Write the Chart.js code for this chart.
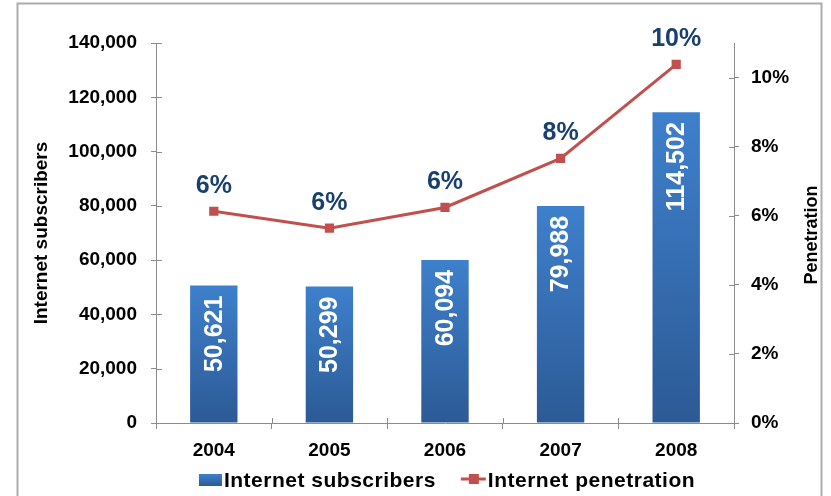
<!DOCTYPE html>
<html>
<head>
<meta charset="utf-8">
<script src="https://cdn.jsdelivr.net/npm/chart.js@4"></script>
<style>
  html, body { margin: 0; padding: 0; background: #fff; }
  #box { width: 831px; height: 496px; }
</style>
</head>
<body>
<div id="box"><canvas id="myChart" width="831" height="496"></canvas></div>
<script>
const years = ['2004', '2005', '2006', '2007', '2008'];
const subscribers = [50621, 50299, 60094, 79988, 114502];
// penetration in %
const penetration = [6.13, 5.64, 6.24, 7.66, 10.38];
const leftTicks = [0, 20000, 40000, 60000, 80000, 100000, 120000, 140000];
const rightTicks = [0, 2, 4, 6, 8, 10];

const FONT = "'Liberation Sans', Arial, sans-serif";
const AXIS = '#8C8C8C';
const RED = '#C0504D';
const NAVY = '#17406F';

function barGradient(c, top, bot) {
    let g = c.createLinearGradient(0, top, 0, bot);
    g.addColorStop(0, '#3E80CC');
    g.addColorStop(1, '#2C5A95');
    return g;
}

// white page + grey frame
const framePlugin = {
    id: 'frame',
    beforeDraw(chart) {
        const c = chart.ctx;
        c.save();
        c.fillStyle = '#fff';
        c.fillRect(0, 0, chart.width, chart.height);
        c.strokeStyle = '#ADADAD';
        c.lineWidth = 2;
        c.strokeRect(17.5, 3.5, chart.width - 27, chart.height + 40);
        c.restore();
    }
};

// the part of each tick mark that sits inside the plot
const innerTicks = {
    id: 'innerTicks',
    afterDraw(chart) {
        const c = chart.ctx, a = chart.chartArea;
        const y = chart.scales.y, y1 = chart.scales.y1, x = chart.scales.x;
        c.save();
        c.strokeStyle = AXIS;
        c.lineWidth = 1;
        c.beginPath();
        y.ticks.forEach(t => {
            let py = Math.round(y.getPixelForValue(t.value)) + 0.5;
            c.moveTo(a.left, py); c.lineTo(a.left + 6, py);
        });
        y1.ticks.forEach(t => {
            let py = Math.round(y1.getPixelForValue(t.value)) + 0.5;
            c.moveTo(a.right - 5, py); c.lineTo(a.right, py);
        });
        for (let i = 0; i <= years.length; i++) {
            let px = Math.round(x.getPixelForValue(i - 0.5)) + 0.5;
            c.moveTo(px, a.bottom - 5); c.lineTo(px, a.bottom);
        }
        c.stroke();
        c.restore();
    }
};

// value labels on bars and points
const valueLabels = {
    id: 'valueLabels',
    afterDatasetsDraw(chart) {
        const c = chart.ctx;
        c.save();
        let bars = chart.getDatasetMeta(0).data;
        c.font = 'bold 25px ' + FONT;
        c.fillStyle = '#fff';
        c.textAlign = 'right';
        c.textBaseline = 'middle';
        bars.forEach((b, i) => {
            c.save();
            c.translate(b.x + 1, b.y + 10);
            c.rotate(-Math.PI / 2);
            c.fillText(subscribers[i].toLocaleString('en-US'), 0, 0);
            c.restore();
        });
        let pts = chart.getDatasetMeta(1).data;
        c.fillStyle = NAVY;
        c.textAlign = 'center';
        pts.forEach((p, i) => {
            c.fillText(Math.round(penetration[i]) + '%', p.x, p.y - 25);
        });
        c.restore();
    }
};

// right axis title (reads bottom to top) and the legend
const extras = {
    id: 'extras',
    afterDraw(chart) {
        const c = chart.ctx, a = chart.chartArea;
        c.save();
        c.fillStyle = '#000';
        c.font = 'bold 18px ' + FONT;
        c.textAlign = 'center';
        c.textBaseline = 'middle';
        c.translate(812, 235);
        c.rotate(-Math.PI / 2);
        c.fillText('Penetration', 0, 0);
        c.restore();

        // legend
        c.save();
        c.font = 'bold 21px ' + FONT;
        c.letterSpacing = '0.5px';
        c.textBaseline = 'middle';
        c.textAlign = 'left';
        const ds = chart.data.datasets;
        const w0 = c.measureText(ds[0].label).width;
        const w1 = c.measureText(ds[1].label).width;
        const total = 23 + 2 + w0 + 25 + 25 + 2 + w1;
        let x = (a.left + a.right) / 2 + 2 - total / 2;
        const ly = 480;
        c.fillStyle = barGradient(c, ly - 6, ly + 6);
        c.fillRect(x, ly - 6, 23, 12);
        x += 25;
        c.fillStyle = '#000';
        c.fillText(ds[0].label, x, ly + 1);
        x += w0 + 25;
        c.strokeStyle = RED;
        c.lineWidth = 3;
        c.beginPath();
        c.moveTo(x, ly - 1); c.lineTo(x + 25, ly - 1);
        c.stroke();
        c.fillStyle = RED;
        c.fillRect(x + 8, ly - 6, 10, 10);
        x += 27;
        c.fillStyle = '#000';
        c.fillText(ds[1].label, x, ly + 1);
        c.restore();
    }
};

const ctx = document.getElementById('myChart');

new Chart(ctx, {
    data: {
        labels: years,
        datasets: [{
            type: 'bar',
            label: 'Internet subscribers',
            data: subscribers,
            yAxisID: 'y',
            order: 2,
            backgroundColor: (context) => {
                const chart = context.chart;
                if (!chart.chartArea) return '#3570B5';
                const top = chart.scales.y.getPixelForValue(context.raw);
                const bot = chart.scales.y.getPixelForValue(0);
                return barGradient(chart.ctx, top, bot);
            },
            borderWidth: 0,
            categoryPercentage: 1,
            barPercentage: 0.41,
        }, {
            type: 'line',
            label: 'Internet penetration',
            data: penetration,
            yAxisID: 'y1',
            order: 1,
            borderColor: RED,
            borderWidth: 3,
            pointStyle: 'rect',
            pointRadius: 6.5,
            pointBackgroundColor: RED,
            pointBorderColor: RED,
            pointBorderWidth: 0,
            tension: 0,
        }]
    },
    options: {
        responsive: false,
        animation: false,
        devicePixelRatio: 1,
        layout: { padding: { left: 22, top: 43, right: 0, bottom: 31 } },
        plugins: {
            legend: { display: false },
            tooltip: { enabled: false },
        },
        scales: {
            x: {
                offset: true,
                grid: { display: true, drawOnChartArea: false, offset: true, tickLength: 6, color: AXIS },
                border: { color: AXIS, width: 1 },
                ticks: { color: '#000', font: { family: FONT, size: 19, weight: 'bold' }, padding: 10 },
                afterFit: s => { s.height = 42; },
            },
            y: {
                position: 'left',
                min: 0,
                max: 140000,
                afterBuildTicks: s => { s.ticks = leftTicks.map(v => ({ value: v })); },
                grid: { drawOnChartArea: false, tickLength: 5, color: AXIS },
                border: { color: AXIS, width: 1 },
                ticks: {
                    color: '#000',
                    font: { family: FONT, size: 19, weight: 'bold' },
                    padding: 14,
                    callback: v => v.toLocaleString('en-US'),
                },
                title: {
                    display: true,
                    text: 'Internet subscribers',
                    color: '#000',
                    font: { family: FONT, size: 19, weight: 'bold' },
                    padding: { top: 8, bottom: 0 },
                },
                afterFit: s => { s.width = 134; },
            },
            y1: {
                position: 'right',
                min: 0,
                max: 11,
                afterBuildTicks: s => { s.ticks = rightTicks.map(v => ({ value: v })); },
                grid: { drawOnChartArea: false, tickLength: 5, color: AXIS },
                border: { color: AXIS, width: 1 },
                ticks: {
                    color: '#000',
                    font: { family: FONT, size: 19, weight: 'bold' },
                    padding: 12,
                    callback: v => v + '%',
                },
                afterFit: s => { s.width = 97; },
            },
        },
    },
    plugins: [framePlugin, innerTicks, valueLabels, extras],
});
</script>
</body>
</html>
